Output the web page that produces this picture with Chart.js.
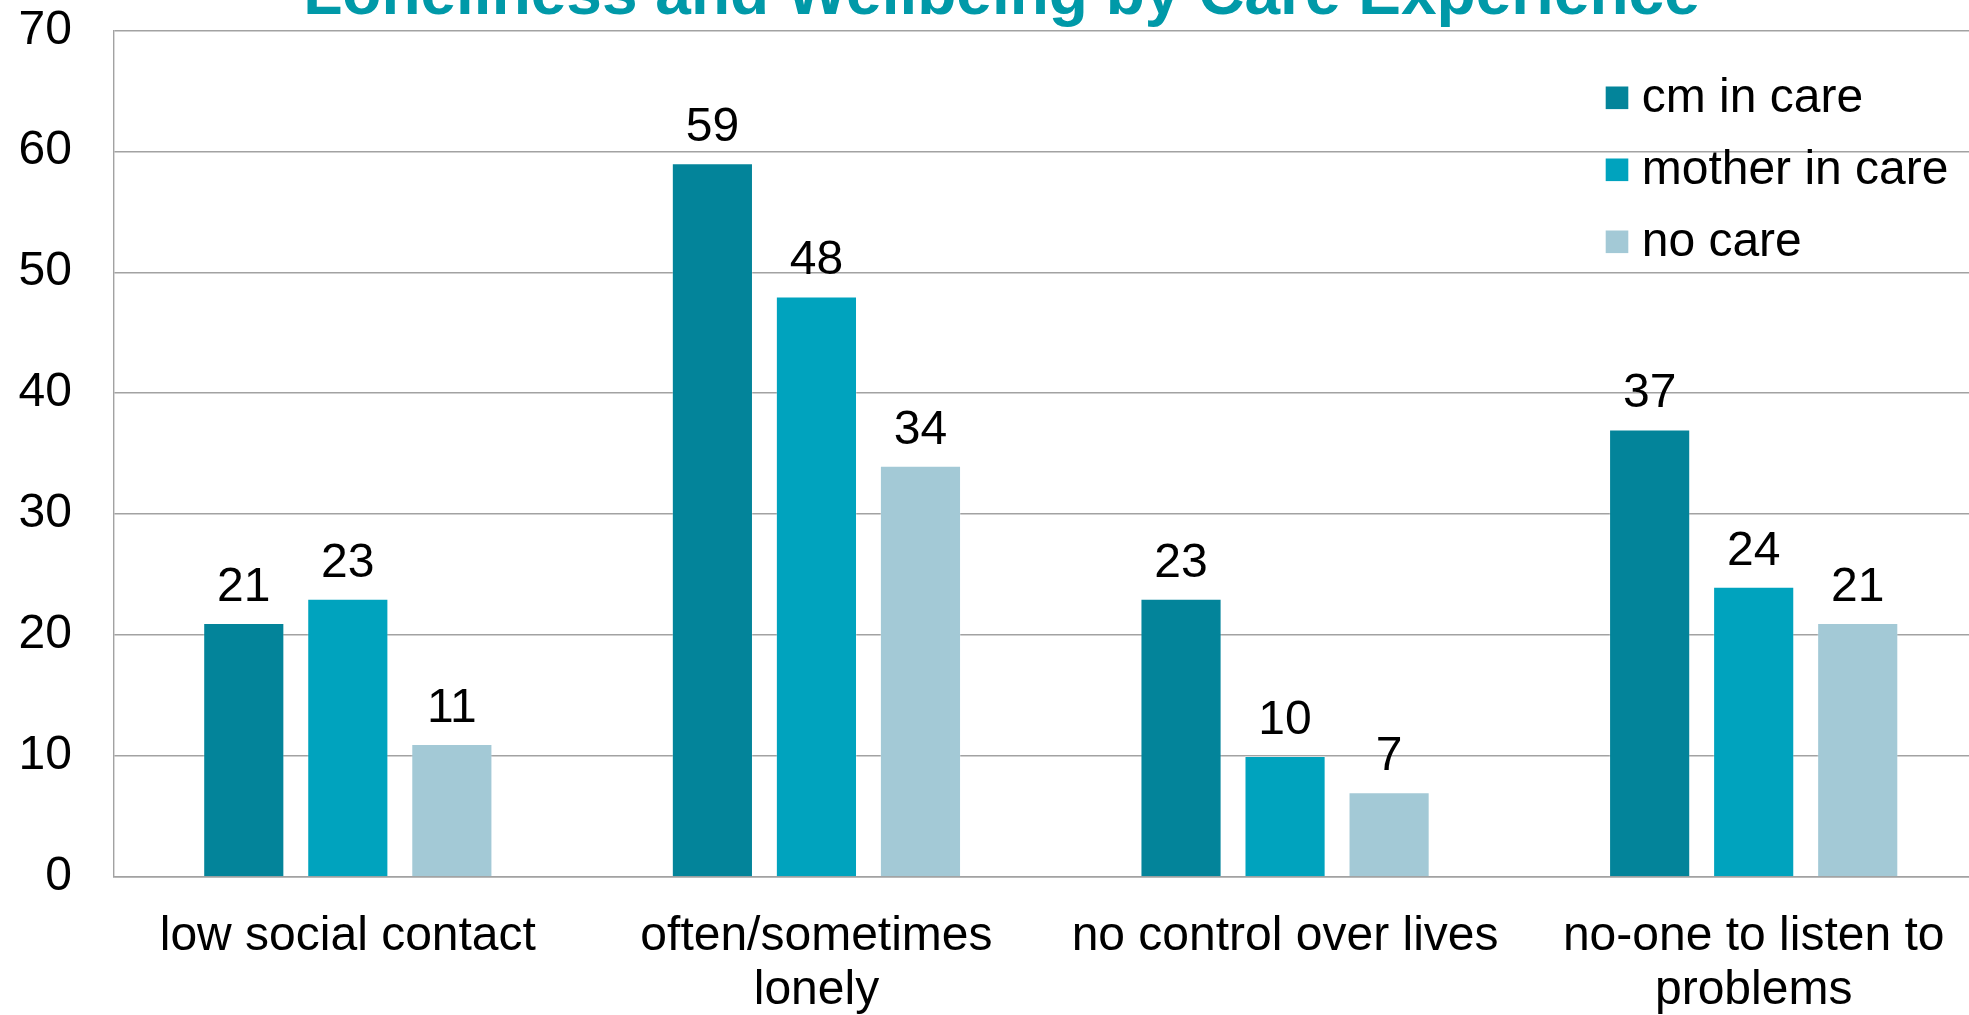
<!DOCTYPE html>
<html>
<head>
<meta charset="utf-8">
<script src="https://cdn.jsdelivr.net/npm/chart.js@4.4.1/dist/chart.umd.min.js"></script>
<style>
  html, body { margin: 0; padding: 0; background: #ffffff; overflow: hidden; width: 1969px; height: 1015px; }
  #wrap { position: absolute; left: 0; top: -40px; }
</style>
</head>
<body>
<div id="wrap"><canvas id="chart" width="2003" height="1055"></canvas></div>
<script>
// Chart content
const chartTitle = 'Loneliness and Wellbeing by Care Experience';
const categories = [
  'low social contact',
  ['often/sometimes', 'lonely'],
  'no control over lives',
  ['no-one to listen to', 'problems']
];
const seriesNames = ['cm in care', 'mother in care', 'no care'];
const cmInCare = [21, 59, 23, 37];
const motherInCare = [23, 48, 10, 24];
const noCare = [11, 34, 7, 21];
const yMin = 0;
const yMax = 70;
const yStep = 10;

const seriesColors = ['#03849a', '#00a3be', '#a3c9d6'];
const FONT = '"Liberation Sans", Arial, Helvetica, sans-serif';
const TEXT_SIZE = 48;

// Value printed above each bar
const valueLabels = {
  id: 'valueLabels',
  afterDatasetsDraw(chart) {
    const ctx = chart.ctx;
    ctx.save();
    ctx.font = TEXT_SIZE + 'px ' + FONT;
    ctx.fillStyle = '#000000';
    ctx.textAlign = 'center';
    ctx.textBaseline = 'alphabetic';
    chart.data.datasets.forEach((ds, i) => {
      const meta = chart.getDatasetMeta(i);
      meta.data.forEach((bar, j) => {
        ctx.fillText(String(ds.data[j]), bar.x, bar.y - 22);
      });
    });
    ctx.restore();
  }
};

// Legend drawn inside the plot, top right
const insideLegend = {
  id: 'insideLegend',
  afterDraw(chart) {
    const ctx = chart.ctx;
    const area = chart.chartArea;
    const box = 22.6;
    const x0 = area.right - 382.3;
    const tx = area.right - 346.3;
    ctx.save();
    ctx.font = TEXT_SIZE + 'px ' + FONT;
    ctx.textAlign = 'left';
    ctx.textBaseline = 'middle';
    chart.data.datasets.forEach((ds, i) => {
      const cy = area.top + 67.5 + i * 72;
      ctx.fillStyle = ds.backgroundColor;
      ctx.fillRect(x0, cy - box / 2, box, box);
      ctx.fillStyle = '#000000';
      ctx.fillText(ds.label, tx, cy + 1);
    });
    ctx.restore();
  }
};

const seriesValues = [cmInCare, motherInCare, noCare];

new Chart(document.getElementById('chart'), {
  type: 'bar',
  data: {
    labels: categories,
    datasets: seriesNames.map((name, i) => ({
      label: name,
      data: seriesValues[i],
      backgroundColor: seriesColors[i],
      borderColor: 'rgba(255,255,255,0.25)',
      borderWidth: 1,
      borderSkipped: 'bottom',
      categoryPercentage: 0.666,
      barPercentage: 0.78
    }))
  },
  options: {
    responsive: false,
    animation: false,
    devicePixelRatio: 1,
    layout: { padding: { left: 15, right: 15, top: 0, bottom: 0 } },
    plugins: {
      legend: { display: false },
      tooltip: { enabled: false },
      title: {
        display: true,
        text: chartTitle,
        color: '#0099a8',
        font: { family: FONT, size: 64, weight: 'bold', lineHeight: 1 },
        padding: { top: 2, bottom: 2 }
      }
    },
    scales: {
      x: {
        grid: { display: false, drawTicks: false },
        border: { display: true, color: '#a2a2a2', width: 1.4 },
        ticks: {
          color: '#000000',
          font: { family: FONT, size: TEXT_SIZE, lineHeight: 1.125 },
          padding: 33,
          maxRotation: 0,
          autoSkip: false
        },
        afterFit(scale) { scale.height = 138; }
      },
      y: {
        min: yMin,
        max: yMax,
        grid: { color: '#a2a2a2', lineWidth: 1.4, drawTicks: false },
        border: { display: true, color: '#a2a2a2', width: 1.4 },
        ticks: {
          stepSize: yStep,
          color: '#000000',
          font: { family: FONT, size: TEXT_SIZE, lineHeight: 1.2 },
          padding: 41.5
        },
        afterFit(scale) { scale.width = 98.5; }
      }
    }
  },
  plugins: [valueLabels, insideLegend]
});
</script>
</body>
</html>
